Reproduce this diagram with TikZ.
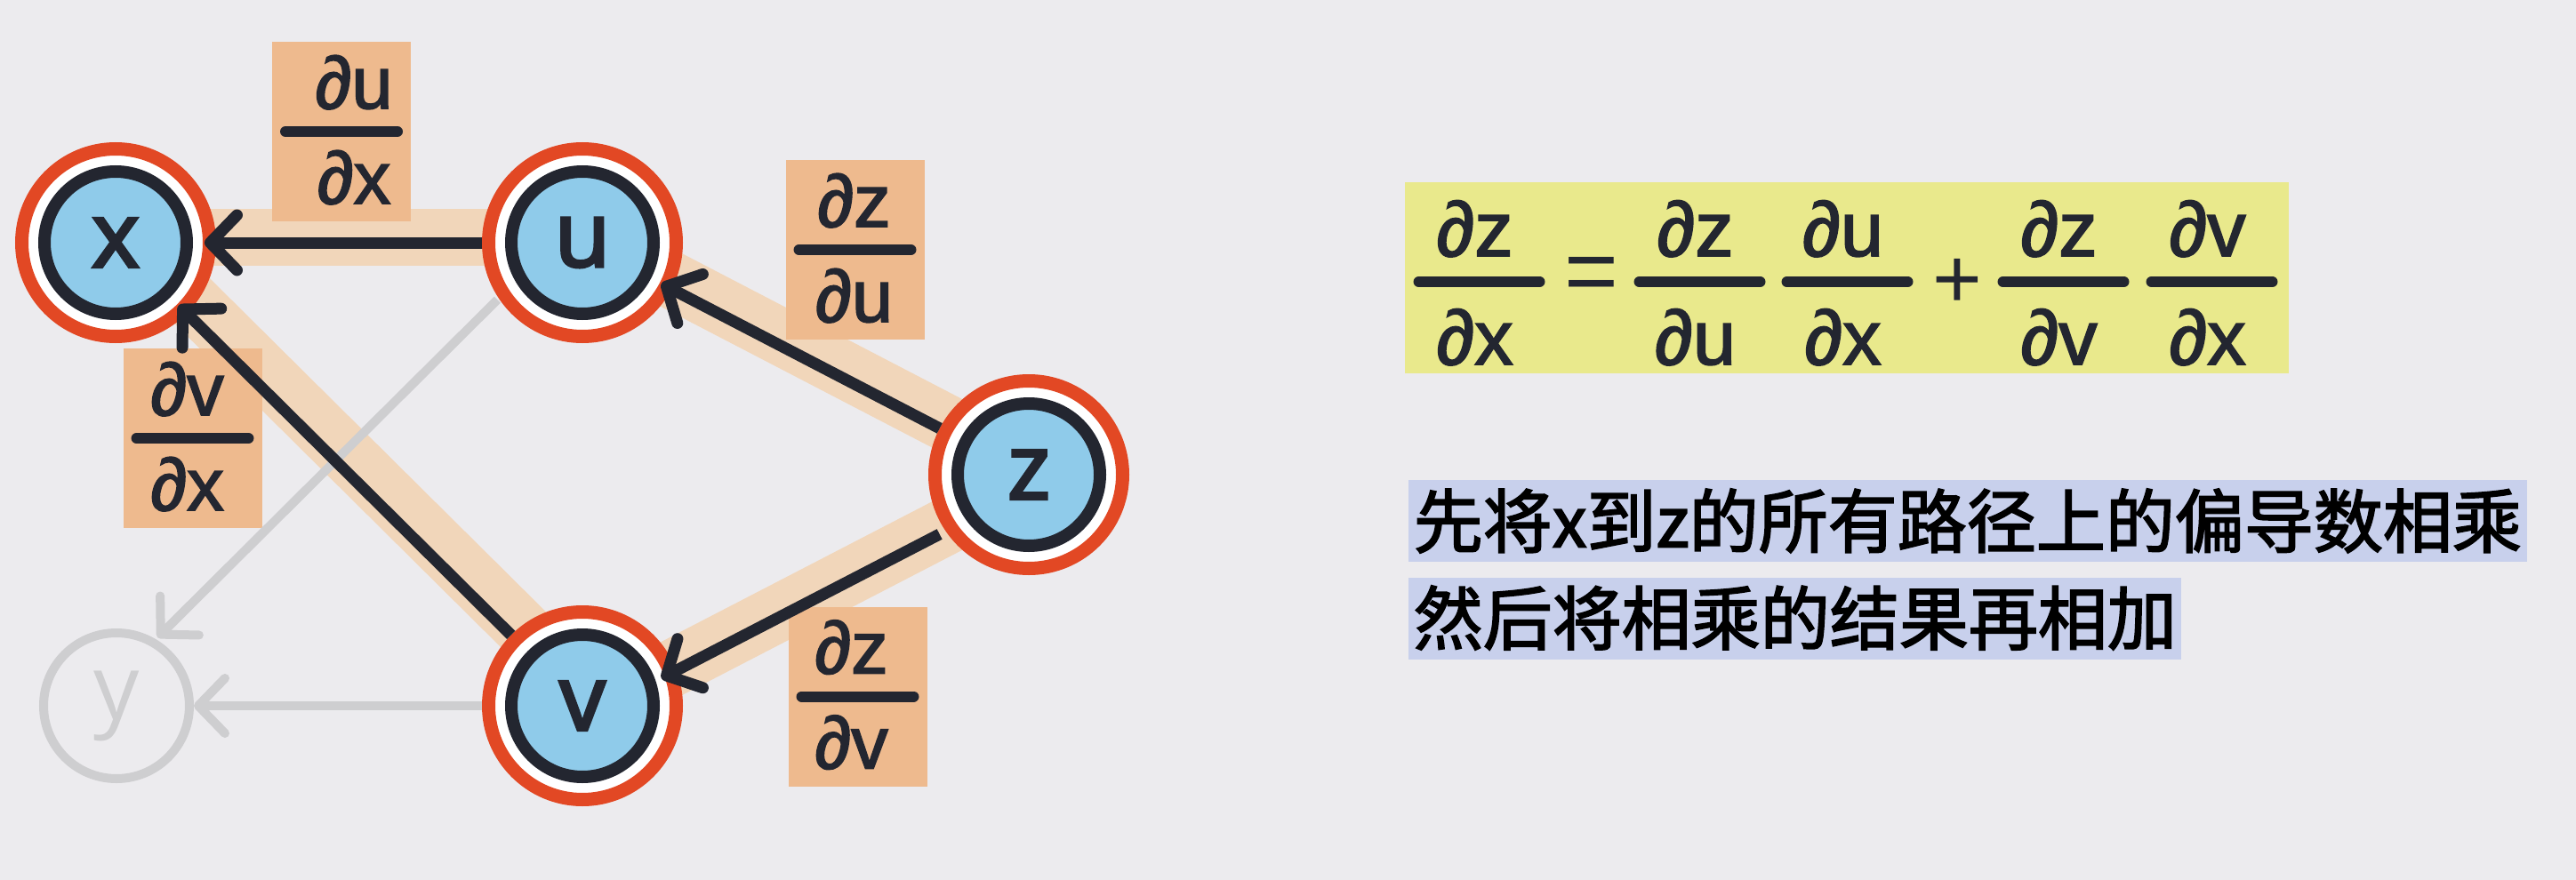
\documentclass[tikz,border=0pt]{standalone}
\usepackage{fontspec}
\usepackage{graphicx}
\setmainfont{Liberation Sans}
\newfontfamily\cjk{Noto Sans CJK SC}
\newfontfamily\nodefont{Open Sans}
\newcommand\strk[2]{\special{pdf:literal direct #1 w 2 Tr}#2\special{pdf:literal direct 0 Tr}}
\usetikzlibrary{arrows.meta}
\pgfdeclarelayer{bg}
\pgfsetlayers{bg,main}
\definecolor{bgc}{RGB}{236,235,238}
\definecolor{ringred}{RGB}{226,72,36}
\definecolor{dark}{RGB}{35,38,48}
\definecolor{nodeblue}{RGB}{143,203,234}
\definecolor{bandc}{RGB}{241,214,186}
\definecolor{lblbox}{RGB}{238,186,142}
\definecolor{fadegray}{RGB}{206,206,208}
\definecolor{fyellow}{RGB}{233,233,140}
\definecolor{lav}{RGB}{200,208,236}
\newcommand\partlabel[5]{%
  \node[lbl] (#1) at (#2) {};
  \node[lbltext,anchor=base] (#1n) at ([shift={(#3,0.26)}]#1.center) {\strk{0.5}{#4}};
  \node[lbltext,anchor=base] (#1d) at ([shift={(#3,-0.81)}]#1.center) {\strk{0.5}{#5}};
  \draw[fracbar] ([xshift=-0.63cm]#1.center) -- ([xshift=0.63cm]#1.center);
}
\begin{document}
\begin{tikzpicture}[
  ring/.style={circle, draw=ringred, line width=0.15cm, fill=white, minimum size=2.11cm, inner sep=0pt},
  core/.style={circle, draw=dark, line width=0.14cm, fill=nodeblue, minimum size=1.60cm, inner sep=0pt, text=dark, font=\nodefont\fontsize{29}{30}\selectfont},
  ynode/.style={circle, draw=fadegray, line width=0.10cm, minimum size=1.64cm, inner sep=0pt, text=fadegray, font=\nodefont\fontsize{29}{30}\selectfont},
  blk/.style={draw=dark, line width=0.13cm, -{Straight Barb[length=0.30cm,width=0.62cm,round]}, shorten >=-0.13cm},
  gry/.style={draw=fadegray, line width=0.10cm, -{Straight Barb[length=0.30cm,width=0.62cm,round]}},
  bandline/.style={draw=bandc, line width=0.64cm},
  lbl/.style={fill=lblbox, minimum width=1.56cm, minimum height=2.02cm, inner sep=0pt},
  lbltext/.style={font=\fontsize{23.6}{26}\selectfont, text=dark, inner sep=0pt},
  fracbar/.style={draw=dark, line width=0.12cm, line cap=round},
  ftext/.style={font=\fontsize{24.7}{28}\selectfont, text=dark, inner sep=0pt},
  hl/.style={fill=lav, inner sep=0pt, anchor=west, minimum height=0.92cm},
  cjktext/.style={font=\cjk\fontsize{22.2}{24}\selectfont, text=black, inner sep=0pt, anchor=west}
]
\begin{pgfonlayer}{bg}
\fill[bgc] (0,0) rectangle (28.97,-9.90);
\end{pgfonlayer}
\useasboundingbox (0,0) rectangle (28.97,-9.90);

% label boxes
\partlabel{lux}{3.84,-1.48}{0.14}{∂u}{∂x}
\partlabel{lzu}{9.615,-2.81}{-0.01}{∂z}{∂u}
\partlabel{lvx}{2.165,-4.93}{-0.06}{∂v}{∂x}
\partlabel{lzv}{9.645,-7.835}{-0.07}{∂z}{∂v}

% nodes
\node[ring] (x) at (1.30,-2.73) {};
\node[core] (xc) at (x) {\strk{1.0}{x}};
\node[ring] (u) at (6.55,-2.73) {};
\node[core] (uc) at (u) {\strk{1.0}{u}};
\node[ring] (z) at (11.57,-5.34) {};
\node[core] (zc) at (z) {\strk{1.0}{z}};
\node[ring] (v) at (6.55,-7.94) {};
\node[core] (vc) at (v) {\strk{1.0}{v}};
\node[ynode] (y) at (1.31,-7.94) {y};

% highlight bands
\begin{pgfonlayer}{bg}
\draw[bandline, transform canvas={yshift=0.06cm}] (x.center) -- (u.center);
\draw[bandline, transform canvas={yshift=0.10cm}] (u.center) -- (z.center);
\draw[bandline, transform canvas={yshift=-0.10cm}] (z.center) -- (v.center);
\draw[bandline, transform canvas={shift={(0.10cm,0.10cm)}}] (v.center) -- (x.center);
\end{pgfonlayer}

% faded edges
\draw[gry, transform canvas={shift={(-0.155cm,0.155cm)}}] (u) -- (y);
\draw[gry] (v) -- (y);

% black edges
\draw[blk] (u) -- (x);
\draw[blk] (v) -- (x);
\draw[blk] (z) -- (u);
\draw[blk, transform canvas={yshift=-0.15cm}] (z) -- (v);

% formula
\node[fill=fyellow, minimum width=9.94cm, minimum height=2.15cm, inner sep=0pt] (fbox) at (20.77,-3.125) {};
\foreach \n/\xc/\num/\den in {f1/16.635/∂z/∂x, f2/19.115/∂z/∂u, f3/20.775/∂u/∂x, f4/23.205/∂z/∂v, f5/24.875/∂v/∂x}{
  \node[ftext,anchor=base] (\n n) at (\xc-0.05,-2.88) {\strk{0.5}{\num}};
  \node[ftext,anchor=base] (\n d) at (\xc-0.05,-4.10) {\strk{0.5}{\den}};
  \draw[fracbar] (\xc-0.68,-3.17) -- (\xc+0.68,-3.17);
}
\node[ftext] (eq) at (17.895,-3.145) {\scalebox{1.2}{=}};
\node[ftext] (plus) at (22.01,-3.185) {\scalebox{1.1}{+}};

% explanation
\node[hl, minimum width=12.58cm] (h1) at (15.83,-5.86) {};
\node[hl, minimum width=8.69cm] (h2) at (15.83,-6.96) {};
\node[cjktext] (t1) at (15.89,-5.86) {\strk{0.5}{先将x到z的所有路径上的偏导数相乘}};
\node[cjktext] (t2) at (15.89,-6.95) {\strk{0.5}{然后将相乘的结果再相加}};
\end{tikzpicture}
\end{document}
